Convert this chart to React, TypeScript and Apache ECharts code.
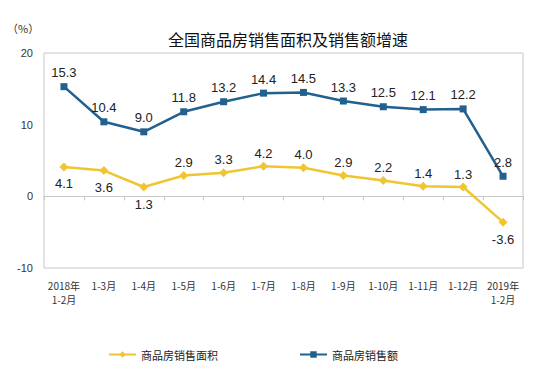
import React, { useEffect, useRef } from "react";
import * as echarts from "echarts";

const categories = [
  "2018年\n1-2月", "1-3月", "1-4月", "1-5月", "1-6月", "1-7月",
  "1-8月", "1-9月", "1-10月", "1-11月", "1-12月", "2019年\n1-2月",
];
const areaGrowth = [4.1, 3.6, 1.3, 2.9, 3.3, 4.2, 4.0, 2.9, 2.2, 1.4, 1.3, -3.6];
const salesGrowth = [15.3, 10.4, 9.0, 11.8, 13.2, 14.4, 14.5, 13.3, 12.5, 12.1, 12.2, 2.8];
const areaLabelBelow = [true, true, true, false, false, false, false, false, false, false, false, true];
const yTicks = { min: -10, max: 20, interval: 10 };

const BLUE = "#21608f";
const YELLOW = "#f0c531";
const CJK = "'Noto Sans CJK SC', sans-serif";
const NUM = "'Liberation Sans', Arial, sans-serif";

export default function App() {
  const ref = useRef<HTMLDivElement>(null);
  useEffect(() => {
    if (!ref.current) return;
    const chart = echarts.init(ref.current, null, { renderer: "svg" });
    chart.setOption({
      animation: false,
      backgroundColor: "#ffffff",
      title: {
        text: "全国商品房销售面积及销售额增速",
        left: 283,
        textAlign: "center",
        top: 26,
        textStyle: { fontFamily: CJK, fontSize: 16, fontWeight: "normal", color: "#111" },
      },
      graphic: [
        {
          type: "text",
          left: 7,
          top: 22,
          style: { text: "（%）", fontFamily: CJK, fontSize: 11, fill: "#333" },
        },
      ],
      legend: {
        left: 103,
        top: 344,
        itemGap: 81,
        itemWidth: 27,
        itemHeight: 8,
        textStyle: { fontFamily: CJK, fontSize: 11, color: "#222" },
        data: ["商品房销售面积", "商品房销售额"],
      },
      grid: {
        left: 44,
        right: 16,
        top: 53,
        bottom: 113,
        show: true,
        borderColor: "#c8c8c8",
        borderWidth: 1,
      },
      xAxis: [
        {
          type: "category",
          data: categories,
          position: "bottom",
          boundaryGap: true,
          axisLine: { show: false, onZero: false },
          axisTick: { show: false },
          axisLabel: {
            interval: 0,
            margin: 10,
            fontFamily: CJK,
            fontSize: 10,
            lineHeight: 14,
            color: "#333",
          },
        },
        {
          type: "category",
          data: categories,
          position: "top",
          boundaryGap: true,
          axisLine: { show: true, onZero: true, lineStyle: { color: "#c8c8c8", width: 1 } },
          axisTick: { show: true, inside: true, length: 4, interval: 0, lineStyle: { color: "#c8c8c8" } },
          axisLabel: { show: false },
        },
      ],
      yAxis: {
        type: "value",
        min: yTicks.min,
        max: yTicks.max,
        interval: yTicks.interval,
        axisLine: { show: false },
        axisTick: { show: false },
        splitLine: { show: false },
        axisLabel: { margin: 11, fontFamily: NUM, fontSize: 11, color: "#333" },
      },
      series: [
        {
          name: "商品房销售面积",
          type: "line",
          data: areaGrowth.map((v, i) => ({
            value: v,
            label: areaLabelBelow[i]
              ? { position: "bottom", distance: 6 }
              : { position: "top", distance: 2 },
          })),
          symbol: "diamond",
          symbolSize: 9,
          lineStyle: { color: YELLOW, width: 2.5 },
          itemStyle: { color: YELLOW },
          label: {
            show: true,
            fontFamily: NUM,
            fontSize: 13,
            color: "#222",
            formatter: (p: any) => Number(p.value).toFixed(1),
          },
        },
        {
          name: "商品房销售额",
          type: "line",
          data: salesGrowth,
          symbol: "rect",
          symbolSize: 7,
          lineStyle: { color: BLUE, width: 2.5 },
          itemStyle: { color: BLUE },
          label: {
            show: true,
            position: "top",
            distance: 4,
            fontFamily: NUM,
            fontSize: 13,
            color: "#222",
            formatter: (p: any) => Number(p.value).toFixed(1),
          },
        },
      ],
    });
    return () => chart.dispose();
  }, []);
  return <div ref={ref} style={{ width: 539, height: 381, position: "absolute", left: 0, top: 0 }} />;
}
